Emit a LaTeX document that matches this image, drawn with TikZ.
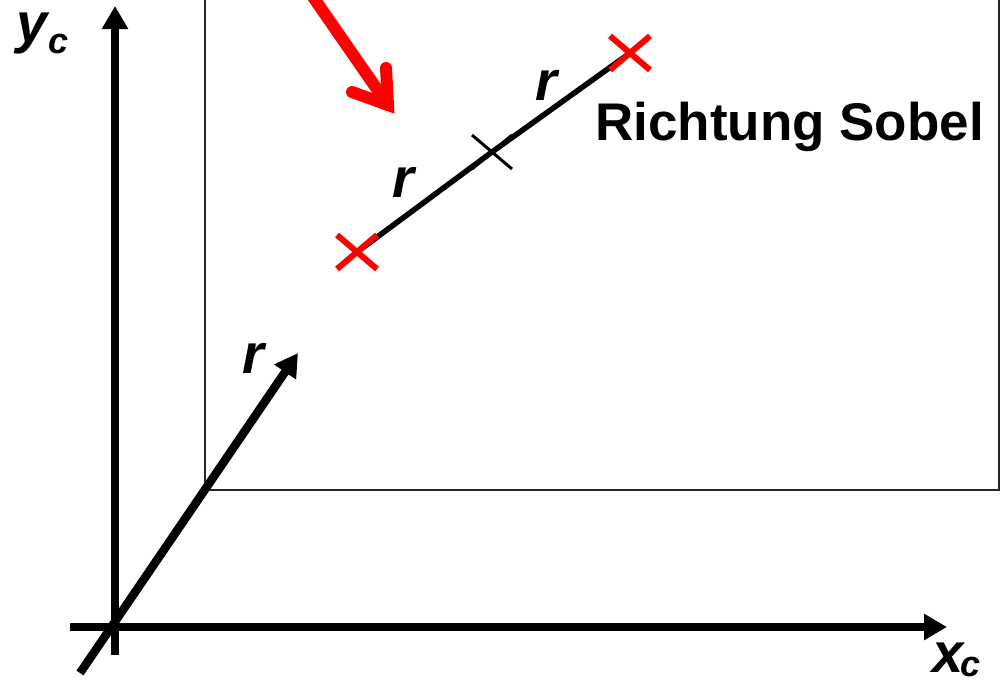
\documentclass[tikz,border=0pt]{standalone}
\usepackage{fontspec}
\setmainfont{Liberation Sans}
\usetikzlibrary{arrows.meta}
\begin{document}
\begin{tikzpicture}[x=1pt,y=-1pt,
  axis/.style={line width=8.5pt, -{Triangle[width=25pt,length=23pt]}},
  frame/.style={line width=1.5pt, draw=black!85},
  lbl/.style={inner sep=0pt, anchor=base west, font=\fontsize{56}{60}\selectfont\bfseries\itshape},
  sublbl/.style={inner sep=0pt, anchor=base west, font=\fontsize{36}{40}\selectfont\bfseries\itshape},
  title/.style={inner sep=0pt, anchor=base west, font=\fontsize{53}{60}\selectfont\bfseries},
  seg/.style={line width=5.5pt},
  redx/.style={red, line width=6pt},
  blackx/.style={black, line width=3pt},
  redarrow/.style={red, line width=12pt},
  crossmark/.pic={\draw[pic actions] (-20,-17) -- (20,17) (-20,17) -- (20,-17);}
]
\useasboundingbox (0,0) rectangle (1004,688);
% frame (image plane)
\coordinate (f1) at (205,-3);
\coordinate (f2) at (205,490);
\coordinate (f3) at (999,490);
\coordinate (f4) at (999,-3);
\draw[frame] (f1) -- (f2) -- (f3) -- (f4);
% axes
\coordinate (O) at (115,627);
\coordinate (ybot) at (115,655);
\coordinate (ytip) at (115,6);
\coordinate (xleft) at (70,627);
\coordinate (xtip) at (947,627);
\coordinate (rtail) at (80,673);
\coordinate (rtip) at (298,353);
\draw[axis] (ybot) -- (ytip);
\draw[axis] (xleft) -- (xtip);
\draw[axis] (rtail) -- (rtip);
% labels of axes
\node[lbl, text height=30pt] (ylab) at (16,42) {y};
\node[sublbl] (ysub) at (48,53) {c};
\node[lbl] (xlab) at (932,672) {x};
\node[sublbl, text height=19pt] (xsub) at (960,676) {c};
\node[lbl] (rlab) at (242,373) {r};
% Sobel direction segment
\coordinate (pA) at (357,252);
\coordinate (pM) at (492,152);
\coordinate (pB) at (630,53);
\draw[seg] (pA) -- (pM);
\draw[seg] (pM) -- (pB);
\pic[redx] at (pA) {crossmark};
\pic[redx] at (pB) {crossmark};
\pic[blackx] at (pM) {crossmark};
\node[lbl] (r1) at (392,197) {r};
\node[lbl] (r2) at (535,100) {r};
\node[title] (sobel) at (595,140) {Richtung Sobel};
% red arrow
\coordinate (atail) at (311,-6);
\coordinate (ajoint) at (388,105);
\coordinate (aleft) at (352,92);
\coordinate (aright) at (386,68);
\draw[redarrow, line cap=round] (atail) -- (ajoint);
\draw[redarrow, line cap=round, line join=miter] (aleft) -- (ajoint) -- (aright);
\end{tikzpicture}
\end{document}
